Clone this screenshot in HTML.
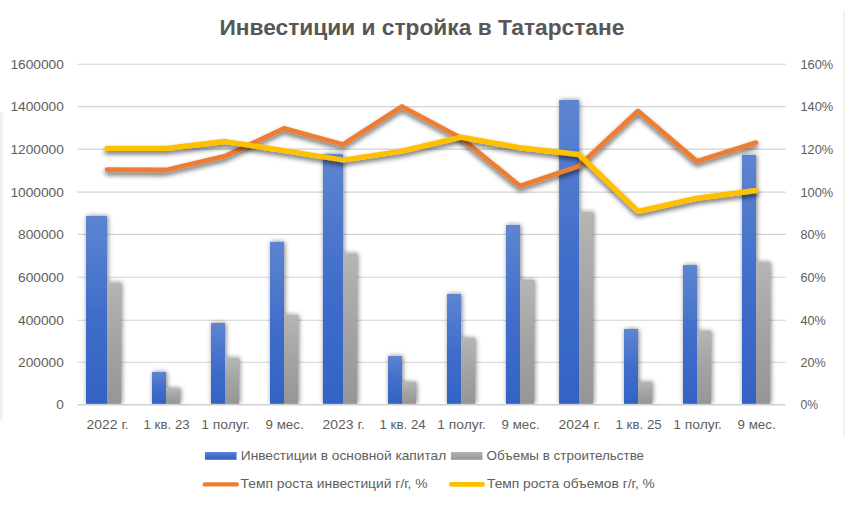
<!DOCTYPE html><html><head><meta charset="utf-8"><style>html,body{margin:0;padding:0;background:#fff}svg{display:block}text{font-family:"Liberation Sans",sans-serif;fill:#5e5e5e}</style></head><body>
<svg width="845" height="524" viewBox="0 0 845 524">
<defs>
<linearGradient id="gb" x1="0" y1="0" x2="0" y2="1"><stop offset="0" stop-color="#5d85d1"/><stop offset="0.5" stop-color="#416eca"/><stop offset="1" stop-color="#3363c4"/></linearGradient>
<linearGradient id="gg" x1="0" y1="0" x2="0" y2="1"><stop offset="0" stop-color="#b5b5b5"/><stop offset="0.5" stop-color="#a3a3a3"/><stop offset="1" stop-color="#969696"/></linearGradient>
<linearGradient id="gbu" gradientUnits="userSpaceOnUse" x1="0" y1="64" x2="0" y2="404"><stop offset="0" stop-color="#5e86d1"/><stop offset="1" stop-color="#3163c3"/></linearGradient>
<linearGradient id="ggu" gradientUnits="userSpaceOnUse" x1="0" y1="64" x2="0" y2="404"><stop offset="0" stop-color="#b8b8b8"/><stop offset="1" stop-color="#919191"/></linearGradient>
<filter id="sh" x="-50%" y="-10%" width="200%" height="120%"><feGaussianBlur in="SourceAlpha" stdDeviation="2.8"/><feOffset dx="1" dy="0.3"/><feComponentTransfer><feFuncA type="linear" slope="0.5"/></feComponentTransfer><feMerge><feMergeNode/><feMergeNode in="SourceGraphic"/></feMerge></filter>
<filter id="shl" x="-5%" y="-30%" width="110%" height="160%"><feGaussianBlur in="SourceAlpha" stdDeviation="2.6"/><feOffset dx="0" dy="3"/><feComponentTransfer><feFuncA type="linear" slope="0.6"/></feComponentTransfer><feMerge><feMergeNode/><feMergeNode in="SourceGraphic"/></feMerge></filter>
</defs>
<rect width="845" height="524" fill="#fff"/>
<rect x="0" y="112" width="3.5" height="309" fill="#f6f6f6"/><rect x="0" y="114" width="1.2" height="305" fill="#ececec"/><rect x="843.4" y="10" width="1" height="426" fill="#e3e3e3"/>
<line x1="77.5" y1="64.20" x2="785.5" y2="64.20" stroke="#d3d3d3" stroke-width="1.1"/>
<line x1="77.5" y1="106.60" x2="785.5" y2="106.60" stroke="#d3d3d3" stroke-width="1.1"/>
<line x1="77.5" y1="149.10" x2="785.5" y2="149.10" stroke="#d3d3d3" stroke-width="1.1"/>
<line x1="77.5" y1="192.10" x2="785.5" y2="192.10" stroke="#d3d3d3" stroke-width="1.1"/>
<line x1="77.5" y1="234.40" x2="785.5" y2="234.40" stroke="#d3d3d3" stroke-width="1.1"/>
<line x1="77.5" y1="277.20" x2="785.5" y2="277.20" stroke="#d3d3d3" stroke-width="1.1"/>
<line x1="77.5" y1="320.30" x2="785.5" y2="320.30" stroke="#d3d3d3" stroke-width="1.1"/>
<line x1="77.5" y1="362.20" x2="785.5" y2="362.20" stroke="#d3d3d3" stroke-width="1.1"/>
<clipPath id="cp"><rect x="60" y="50" width="740" height="354.4"/></clipPath><g clip-path="url(#cp)"><g filter="url(#sh)">
<rect x="86.0" y="216.0" width="21.0" height="187.8" fill="url(#gb)"/>
<rect x="107.0" y="282.6" width="14.0" height="121.2" fill="url(#gg)"/>
<rect x="152.0" y="372.0" width="14.0" height="31.8" fill="url(#gb)"/>
<rect x="166.0" y="388.2" width="14.0" height="15.6" fill="url(#gg)"/>
<rect x="211.0" y="323.0" width="14.0" height="80.8" fill="url(#gb)"/>
<rect x="225.0" y="357.8" width="14.0" height="46.0" fill="url(#gg)"/>
<rect x="270.0" y="241.8" width="14.0" height="162.0" fill="url(#gb)"/>
<rect x="284.0" y="314.9" width="14.0" height="88.9" fill="url(#gg)"/>
<rect x="322.9" y="154.1" width="20.1" height="249.7" fill="url(#gb)"/>
<rect x="343.0" y="253.5" width="14.0" height="150.3" fill="url(#gg)"/>
<rect x="388.0" y="355.9" width="14.0" height="47.9" fill="url(#gb)"/>
<rect x="402.0" y="382.0" width="14.0" height="21.8" fill="url(#gg)"/>
<rect x="447.0" y="293.9" width="14.0" height="109.9" fill="url(#gb)"/>
<rect x="461.0" y="338.0" width="14.0" height="65.8" fill="url(#gg)"/>
<rect x="506.0" y="224.9" width="14.0" height="178.9" fill="url(#gb)"/>
<rect x="520.0" y="280.0" width="14.0" height="123.8" fill="url(#gg)"/>
<rect x="559.1" y="100.0" width="19.9" height="303.8" fill="url(#gb)"/>
<rect x="579.0" y="211.9" width="14.0" height="191.9" fill="url(#gg)"/>
<rect x="624.0" y="329.0" width="14.0" height="74.8" fill="url(#gb)"/>
<rect x="638.0" y="382.0" width="14.0" height="21.8" fill="url(#gg)"/>
<rect x="683.0" y="265.1" width="14.0" height="138.7" fill="url(#gb)"/>
<rect x="697.0" y="331.0" width="14.0" height="72.8" fill="url(#gg)"/>
<rect x="742.0" y="154.9" width="14.0" height="248.9" fill="url(#gb)"/>
<rect x="756.0" y="262.3" width="14.0" height="141.5" fill="url(#gg)"/>
</g></g>
<line x1="77.5" y1="404.80" x2="785.5" y2="404.80" stroke="#d0d0d0" stroke-width="1.5"/>
<polyline points="107.0,169.6 166.0,170.0 225.0,156.2 284.0,128.4 343.0,144.5 402.0,106.5 461.0,138.0 520.0,186.0 579.0,166.0 638.0,111.0 697.0,161.3 756.0,142.6" fill="none" stroke="#ed7d31" stroke-width="4.8" stroke-linecap="round" stroke-linejoin="round" filter="url(#shl)"/>
<polyline points="107.0,148.4 166.0,148.4 225.0,141.5 284.0,150.5 343.0,160.0 402.0,151.0 461.0,137.2 520.0,147.6 579.0,154.5 638.0,211.4 697.0,198.2 756.0,190.5" fill="none" stroke="#ffc000" stroke-width="5.3" stroke-linecap="round" stroke-linejoin="round" filter="url(#shl)"/>
<text x="219.4" y="35.1" font-size="22" font-weight="bold" style="fill:#575757" textLength="405" lengthAdjust="spacingAndGlyphs">Инвестиции и стройка в Татарстане</text>
<text x="10.4" y="68.8" font-size="13.3" textLength="53.5" lengthAdjust="spacingAndGlyphs">1600000</text>
<text x="800.4" y="68.8" font-size="13.3" textLength="32.9" lengthAdjust="spacingAndGlyphs">160%</text>
<text x="10.4" y="111.2" font-size="13.3" textLength="53.5" lengthAdjust="spacingAndGlyphs">1400000</text>
<text x="800.4" y="111.2" font-size="13.3" textLength="32.9" lengthAdjust="spacingAndGlyphs">140%</text>
<text x="10.4" y="153.7" font-size="13.3" textLength="53.5" lengthAdjust="spacingAndGlyphs">1200000</text>
<text x="800.4" y="153.7" font-size="13.3" textLength="32.9" lengthAdjust="spacingAndGlyphs">120%</text>
<text x="10.4" y="196.7" font-size="13.3" textLength="53.5" lengthAdjust="spacingAndGlyphs">1000000</text>
<text x="800.4" y="196.7" font-size="13.3" textLength="32.9" lengthAdjust="spacingAndGlyphs">100%</text>
<text x="18.1" y="239.0" font-size="13.3" textLength="45.8" lengthAdjust="spacingAndGlyphs">800000</text>
<text x="800.4" y="239.0" font-size="13.3" textLength="25.3" lengthAdjust="spacingAndGlyphs">80%</text>
<text x="18.1" y="281.8" font-size="13.3" textLength="45.8" lengthAdjust="spacingAndGlyphs">600000</text>
<text x="800.4" y="281.8" font-size="13.3" textLength="25.3" lengthAdjust="spacingAndGlyphs">60%</text>
<text x="18.1" y="324.9" font-size="13.3" textLength="45.8" lengthAdjust="spacingAndGlyphs">400000</text>
<text x="800.4" y="324.9" font-size="13.3" textLength="25.3" lengthAdjust="spacingAndGlyphs">40%</text>
<text x="18.1" y="366.8" font-size="13.3" textLength="45.8" lengthAdjust="spacingAndGlyphs">200000</text>
<text x="800.4" y="366.8" font-size="13.3" textLength="25.3" lengthAdjust="spacingAndGlyphs">20%</text>
<text x="56.3" y="409.4" font-size="13.3" textLength="7.6" lengthAdjust="spacingAndGlyphs">0</text>
<text x="800.4" y="409.4" font-size="13.3" textLength="17.6" lengthAdjust="spacingAndGlyphs">0%</text>
<text x="86.5" y="429.4" font-size="13.3" textLength="42.2" lengthAdjust="spacingAndGlyphs">2022 г.</text>
<text x="143.5" y="429.4" font-size="13.3" textLength="46.2" lengthAdjust="spacingAndGlyphs">1 кв. 23</text>
<text x="201.3" y="429.4" font-size="13.3" textLength="48.6" lengthAdjust="spacingAndGlyphs">1 полуг.</text>
<text x="265.6" y="429.4" font-size="13.3" textLength="38.0" lengthAdjust="spacingAndGlyphs">9 мес.</text>
<text x="322.5" y="429.4" font-size="13.3" textLength="42.2" lengthAdjust="spacingAndGlyphs">2023 г.</text>
<text x="379.5" y="429.4" font-size="13.3" textLength="46.2" lengthAdjust="spacingAndGlyphs">1 кв. 24</text>
<text x="437.3" y="429.4" font-size="13.3" textLength="48.6" lengthAdjust="spacingAndGlyphs">1 полуг.</text>
<text x="501.6" y="429.4" font-size="13.3" textLength="38.0" lengthAdjust="spacingAndGlyphs">9 мес.</text>
<text x="558.5" y="429.4" font-size="13.3" textLength="42.2" lengthAdjust="spacingAndGlyphs">2024 г.</text>
<text x="615.5" y="429.4" font-size="13.3" textLength="46.2" lengthAdjust="spacingAndGlyphs">1 кв. 25</text>
<text x="673.3" y="429.4" font-size="13.3" textLength="48.6" lengthAdjust="spacingAndGlyphs">1 полуг.</text>
<text x="737.6" y="429.4" font-size="13.3" textLength="38.0" lengthAdjust="spacingAndGlyphs">9 мес.</text>
<rect x="204.9" y="452" width="31.7" height="7.8" fill="url(#gb)"/>
<rect x="451" y="452" width="31.5" height="7.8" fill="url(#gg)"/>
<line x1="204.8" y1="484.4" x2="236.7" y2="484.4" stroke="#ed7d31" stroke-width="4.4" stroke-linecap="round"/>
<line x1="451.4" y1="484.4" x2="482.6" y2="484.4" stroke="#ffc000" stroke-width="4.8" stroke-linecap="round"/>
<text x="240.8" y="460.0" font-size="13.3" textLength="205.4" lengthAdjust="spacingAndGlyphs">Инвестиции в основной капитал</text>
<text x="486.6" y="460.0" font-size="13.3" textLength="157.5" lengthAdjust="spacingAndGlyphs">Объемы в строительстве</text>
<text x="240.6" y="487.7" font-size="13.3" textLength="187.0" lengthAdjust="spacingAndGlyphs">Темп роста инвестиций г/г, %</text>
<text x="487.0" y="487.7" font-size="13.3" textLength="167.8" lengthAdjust="spacingAndGlyphs">Темп роста объемов г/г, %</text>
</svg></body></html>
